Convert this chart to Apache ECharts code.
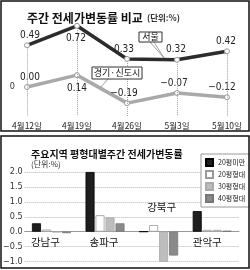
<!DOCTYPE html>
<html><head><meta charset="utf-8">
<script src="https://cdn.jsdelivr.net/npm/echarts@6/dist/echarts.min.js"></script>
<style>html,body{margin:0;padding:0;background:#fff}#c{width:250px;height:270px}</style>
</head><body><div id="c"></div>
<script>
// ---- data ----
const weeks = ['4월12일', '4월19일', '4월26일', '5월3일', '5월10일'];
const seoul = [0.49, 0.72, 0.33, 0.32, 0.42];
const gyeonggi = [0.00, 0.14, -0.19, -0.07, -0.12];

const districts = ['강남구', '송파구', '강북구', '관악구'];
const sizeClasses = ['20평미만', '20평형대', '30평형대', '40평형대'];
const under20 = [0.28, 2.0, 0, 0.69];
const py20 = [0.07, 0.55, 0.22, 0.06];
const py30 = [-0.02, 0.48, -1.02, 0.06];
const py40 = [-0.05, 0.28, -0.80, 0.03];

// ---- styling helpers ----
const KR = "'Noto Sans CJK KR', sans-serif";
const NUM = "'Liberation Sans Narrow', 'DejaVu Sans Condensed', 'Noto Sans CJK KR', sans-serif";
const fmt2 = v => (v < 0 ? '−' : '') + Math.abs(v).toFixed(2);
const fmt1 = v => (v < 0 ? '−' : '') + Math.abs(v).toFixed(1);

function lineData(vals, belowIdx, dxs) {
  return vals.map((v, i) => ({
    value: v,
    label: {
      position: i === belowIdx ? 'bottom' : 'top',
      distance: i === belowIdx ? 5 : 2,
      offset: [dxs[i], 0]
    }
  }));
}

const chart = echarts.init(document.getElementById('c'), null, {renderer: 'canvas'});

const baseLabel = {show: true, formatter: p => fmt2(p.value), fontFamily: NUM, fontSize: 10, color: '#222'};

const barColors = [
  {color: '#1e1e1e', borderColor: '#000'},
  {color: '#ffffff', borderColor: '#9a9a9a'},
  {color: '#bdbdbd', borderColor: '#aaa'},
  {color: '#8a8a8a', borderColor: '#777'}
];
const barSets = [under20, py20, py30, py40];

const staticGraphics = [
  {type: 'rect', shape: {x: 1, y: 1, width: 248, height: 130}, style: {fill: 'none', stroke: '#111', lineWidth: 1.5}, z: 100},
  {type: 'rect', shape: {x: 1, y: 136, width: 248, height: 132}, style: {fill: 'none', stroke: '#111', lineWidth: 1.5}, z: 100},
  // leader lines
  {type: 'line', shape: {x1: 150, y1: 42, x2: 164, y2: 58}, style: {stroke: '#888', lineWidth: 0.8}, z: 50},
  {type: 'line', shape: {x1: 154, y1: 42, x2: 164, y2: 58}, style: {stroke: '#888', lineWidth: 0.8}, z: 50},
  {type: 'line', shape: {x1: 108, y1: 79, x2: 101, y2: 87}, style: {stroke: '#888', lineWidth: 0.8}, z: 50},
  // series name boxes
  {type: 'rect', shape: {x: 139, y: 32, width: 23, height: 10}, style: {fill: '#fff', stroke: '#333', lineWidth: 1}, z: 60},
  {type: 'text', x: 150.5, y: 37, style: {text: '서울', fontFamily: KR, fontSize: 9, fill: '#111', align: 'center', verticalAlign: 'middle'}, z: 61},
  {type: 'rect', shape: {x: 92, y: 67, width: 50, height: 12}, style: {fill: '#fff', stroke: '#333', lineWidth: 1}, z: 60},
  {type: 'text', x: 117, y: 73, style: {text: '경기·신도시', fontFamily: KR, fontSize: 9, fill: '#111', align: 'center', verticalAlign: 'middle'}, z: 61}
];

const option = {
  animation: false,
  backgroundColor: '#fff',
  textStyle: {fontFamily: KR},
  title: [
    {
      left: 22, top: 4,
      text: '{a|주간 전세가변동률 비교} {b|(단위:%)}',
      textStyle: {rich: {
        a: {fontFamily: KR, fontSize: 12, fontWeight: 'bold', color: '#111'},
        b: {fontFamily: KR, fontSize: 8.5, color: '#333'}
      }}
    },
    {
      left: 26, top: 144,
      text: '주요지역 평형대별주간 전세가변동률',
      textStyle: {fontFamily: KR, fontSize: 10, fontWeight: 'bold', color: '#111'},
      subtext: '(단위:%)',
      subtextStyle: {fontFamily: KR, fontSize: 8, color: '#333'},
      itemGap: 1
    }
  ],
  legend: {
    data: sizeClasses,
    orient: 'vertical',
    left: 201, top: 154,
    itemWidth: 7, itemHeight: 7, itemGap: 3,
    padding: [4, 5, 4, 4],
    icon: 'rect',
    backgroundColor: '#fff',
    borderColor: '#999', borderWidth: 1,
    textStyle: {fontFamily: KR, fontSize: 7, color: '#222'}
  },
  grid: [
    {left: 27, right: 23, top: 19, bottom: 270 - 115.9},
    {left: 23, right: 11, top: 172, bottom: 8.5}
  ],
  xAxis: [
    {
      gridIndex: 0, type: 'category', data: weeks, boundaryGap: false,
      axisLine: {show: false}, axisTick: {show: false},
      axisLabel: {fontFamily: KR, fontSize: 8.5, color: '#222', margin: 6}
    },
    {
      gridIndex: 1, type: 'category', data: districts,
      axisLine: {onZero: true, lineStyle: {color: '#999', width: 1}},
      axisTick: {show: false}, axisLabel: {show: false}
    }
  ],
  yAxis: [
    {
      gridIndex: 0, type: 'value', min: -0.34, max: 0.8,
      axisLine: {show: false}, axisTick: {show: false}, splitLine: {show: false},
      axisLabel: {fontFamily: NUM, fontSize: 9, color: '#333', margin: 12,
        formatter: v => (Math.abs(v) < 1e-9 ? '0' : ''), showMinLabel: false, showMaxLabel: false}
    },
    {
      gridIndex: 1, type: 'value', min: -1, max: 2, interval: 0.5,
      axisLine: {show: false}, axisTick: {show: false},
      splitLine: {lineStyle: {color: '#b5b5b5', type: 'dotted', width: 1}},
      axisLabel: {fontFamily: NUM, fontSize: 9, color: '#333', margin: 2, formatter: fmt1}
    }
  ],
  series: [
    {
      name: '서울', type: 'line', xAxisIndex: 0, yAxisIndex: 0,
      data: lineData(seoul, 1, [3, -1, -3, -1, -1]),
      symbol: 'circle', symbolSize: 5,
      lineStyle: {color: '#2c2c2c', width: 3.5},
      itemStyle: {color: '#fff', borderColor: '#999', borderWidth: 1},
      label: baseLabel,
      z: 5,
      markLine: {
        silent: true, symbol: 'none', label: {show: false},
        lineStyle: {color: '#a0a0a0', type: 'dotted', width: 1},
        data: seoul.map((v, i) => [{coord: [i, v]}, {coord: [i, -0.34]}])
      }
    },
    {
      name: '경기·신도시', type: 'line', xAxisIndex: 0, yAxisIndex: 0,
      data: lineData(gyeonggi, 1, [3, 0, -3, -3, -5]),
      symbol: 'circle', symbolSize: 5,
      lineStyle: {color: '#a9a9a9', width: 3.5},
      itemStyle: {color: '#fff', borderColor: '#999', borderWidth: 1},
      label: baseLabel,
      z: 4
    }
  ].concat(barSets.map((arr, k) => ({
    name: sizeClasses[k], type: 'bar', xAxisIndex: 1, yAxisIndex: 1,
    data: arr, barWidth: 9, barGap: '11%',
    itemStyle: {color: barColors[k].color, borderColor: barColors[k].borderColor, borderWidth: 0.8}
  }))),
  graphic: {elements: staticGraphics}
};

chart.setOption(option);

// district labels positioned via the chart's own scales
const labelDx = [-6, -1, 3, -5];
const labelDy = [10, 10, -25, 10];
const districtLabels = districts.map((d, i) => {
  const p = chart.convertToPixel({xAxisIndex: 1, yAxisIndex: 1}, [i, 0]);
  return {type: 'text', x: p[0] + labelDx[i], y: p[1] + labelDy[i],
    style: {text: d, fontFamily: KR, fontSize: 10.5, fill: '#111', align: 'center', verticalAlign: 'middle'}, z: 70};
});
chart.setOption({graphic: {elements: staticGraphics.concat(districtLabels)}});
</script>
</body></html>
